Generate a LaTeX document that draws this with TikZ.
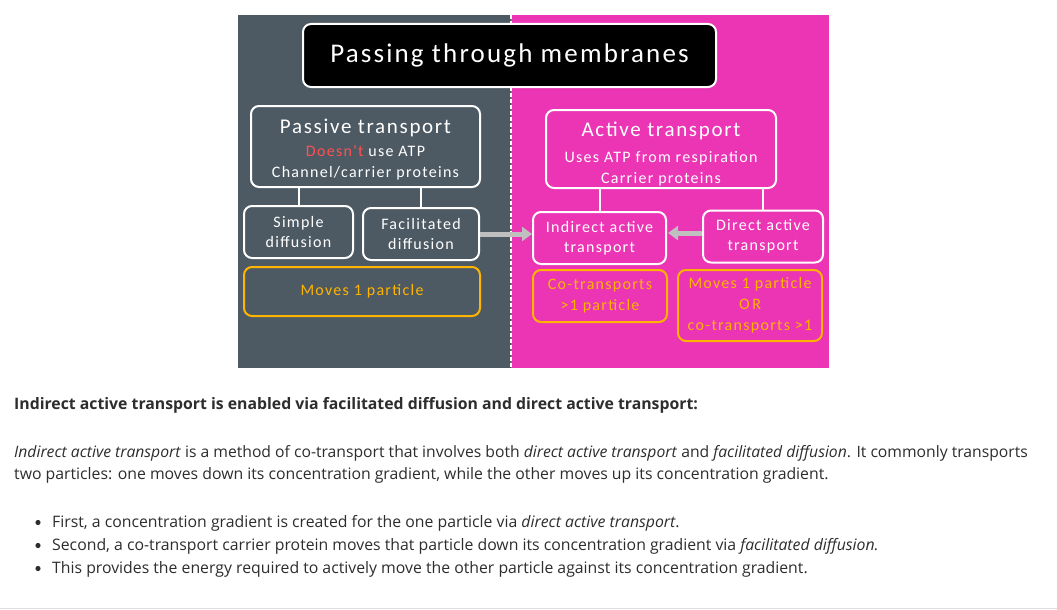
\documentclass[tikz,border=0pt]{standalone}
\usepackage{fontspec}
\setmainfont{Open Sans}
\newfontfamily\carl[LetterSpace=8]{Carlito}
\usetikzlibrary{arrows.meta}
\definecolor{bgray}{HTML}{4D5A63}
\definecolor{bpink}{HTML}{EB35B5}
\definecolor{borange}{HTML}{FFB400}
\definecolor{bred}{HTML}{FF5050}
\definecolor{agray}{HTML}{BFBFBF}
\definecolor{btext}{HTML}{2D2D2D}
\definecolor{rulegray}{HTML}{DDDDDD}
\tikzset{
  wbox/.style={draw=white, line width=2pt, rounded corners=8pt, align=center, inner sep=0pt, text=white, font=\carl\fontsize{16}{20.5}\selectfont},
  wtext/.style={align=center, inner sep=0pt, text=white, font=\carl\fontsize{16}{20.5}\selectfont},
  obox/.style={draw=borange, line width=2pt, rounded corners=8pt, align=center, inner sep=0pt, text=borange, font=\carl\fontsize{16}{21}\selectfont},
  link/.style={draw=white, line width=2pt},
  garrow/.style={draw=agray, line width=5pt, -{Triangle[length=10pt,width=14pt]}},
  bodytext/.style={anchor=base west, inner sep=0pt, text=btext, font=\fontsize{15.8}{22}\selectfont},
}
\begin{document}
\begin{tikzpicture}[x=1pt,y=-1pt]
\useasboundingbox[fill=white] (0,0) rectangle (1057,610);
% backgrounds
\fill[bgray] (238,15) rectangle (511,368);
\fill[bpink] (511,15) rectangle (829,368);
\draw[white, line width=2pt, dash pattern=on 4pt off 2pt] (511,15) -- (511,368);
% title
\node[wbox, fill=black, minimum width=413pt, minimum height=63pt, font=\carl\fontsize{27}{30}\selectfont] (title) at (509.5,55.5) {Passing through membranes};
% passive side
\node[wbox, minimum width=229pt, minimum height=81pt] (passive) at (365.5,146.5) {};
\node[wtext] (passivetxt) at ([yshift=-3pt]passive.center) {{\fontsize{21}{24}\selectfont Passive transport}\\[3pt]{\color{bred}Doesn't} use ATP\\Channel/carrier proteins};
\node[wbox, minimum width=109pt, minimum height=52pt] (simple) at (298.5,232) {Simple\\diffusion};
\node[wbox, minimum width=116pt, minimum height=52pt] (facil) at (421,234) {Facilitated\\diffusion};
\node[obox, minimum width=236pt, minimum height=49pt] (moves) at (362,291.5) {Moves 1 particle};
\draw[link] (simple.north) -- (simple.north |- passive.south);
\draw[link] (facil.north) -- (facil.north |- passive.south);
% active side
\node[wbox, minimum width=230pt, minimum height=78pt] (active) at (661,149) {};
\node[wtext] (activetxt) at ([yshift=-5pt]active.center) {{\fontsize{21}{24}\selectfont Active transport}\\[5.5pt]Uses ATP from respiration\\Carrier proteins};
\node[wbox, minimum width=133pt, minimum height=52pt] (indirect) at (599.5,238) {Indirect active\\transport};
\node[wbox, minimum width=120pt, minimum height=52pt] (direct) at (763,236.5) {Direct active\\transport};
\node[obox, minimum width=134pt, minimum height=52pt] (cotr) at (600,296) {Co-transports\\>1 particle};
\node[obox, minimum width=144pt, minimum height=71pt] (movesor) at (750,305.5) {Moves 1 particle\\O\,R\\co-transports >1};
\draw[link] (indirect.north) -- (indirect.north |- active.south);
\draw[link] (direct.north) -- (direct.north |- active.south);
% arrows
\coordinate (a1) at (facil.east |- 0,234);
\draw[garrow] (a1) -- (a1 -| indirect.west);
\coordinate (a2) at (direct.west |- 0,233);
\draw[garrow] (a2) -- ([xshift=1pt]a2 -| indirect.east);
% body text
\node[bodytext, font=\bfseries\fontsize{15.8}{22}\selectfont] (head) at (14,409) {Indirect active transport is enabled via facilitated diffusion and direct active transport:};
\node[bodytext, font=\fontsize{15.7}{22}\selectfont] (p1) at (14,457) {\textit{Indirect active transport} is a method of co-transport that involves both \textit{direct active transport} and \textit{facilitated diffusion}. It commonly transports};
\node[bodytext] (p2) at (14,479) {two particles: one moves down its concentration gradient, while the other moves up its concentration gradient.};
\node[bodytext] (b1) at (52,527) {First, a concentration gradient is created for the one particle via \textit{direct active transport}.};
\node[bodytext] (b2) at (52,550) {Second, a co-transport carrier protein moves that particle down its concentration gradient via \textit{facilitated diffusion.}};
\node[bodytext] (b3) at (52,573) {This provides the energy required to actively move the other particle against its concentration gradient.};
\foreach \n in {b1,b2,b3} \fill[btext] ([xshift=-14pt,yshift=4.5pt]\n.base west) circle (2.6pt);
\draw[rulegray, line width=1pt] (0,608.5) -- (1057,608.5);
\end{tikzpicture}
\end{document}
